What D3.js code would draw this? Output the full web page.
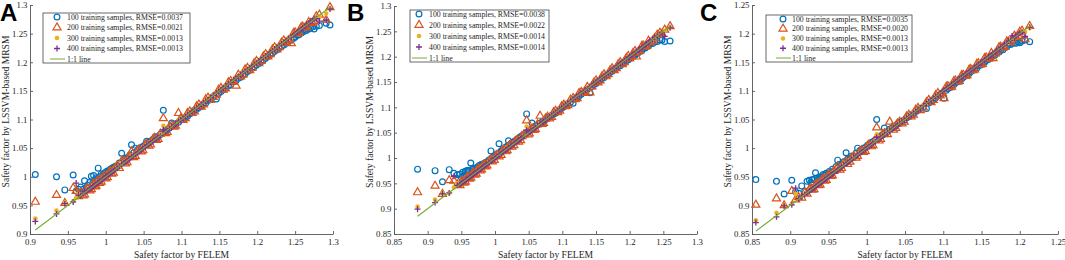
<!DOCTYPE html>
<html>
<head>
<meta charset="utf-8">
<script src="https://cdn.jsdelivr.net/npm/d3@7"></script>
<style>
  body{margin:0;background:#fff;}
  svg{display:block;}
</style>
</head>
<body>
<div id="chart"></div>
<script>
// ---- panel A : safety factor by FELEM (x) and MRSM predictions (y) ----
const xA = [0.907,0.935,0.946,0.957,0.961,0.964,0.967,0.972,0.976,0.981,
  0.984,0.987,0.990,0.994,0.998,1.002,1.006,1.010,1.015,1.021,
  1.026,1.030,1.034,1.039,1.044,1.049,1.054,1.059,1.064,1.069,
  1.076,1.081,1.087,1.092,1.096,1.102,1.108,1.114,1.120,1.126,
  1.132,1.138,1.146,1.152,1.158,1.165,1.172,1.178,1.184,1.190,
  1.196,1.202,1.208,1.214,1.220,1.226,1.232,1.238,1.245,1.250,
  1.255,1.260,1.265,1.270,1.275,1.282,1.291,1.296,
  0.970,0.974,0.979,0.983,0.986,0.989,0.992,0.996,1.000,1.004,
  1.008,1.012,1.018,1.024,1.028,1.032,1.037,1.042,1.047,1.052,
  1.057,1.062,1.067,1.072,1.079,1.084,1.090,1.099,1.105,1.111,
  1.117,1.123,1.129,1.135,1.142,1.149,1.155,1.162,1.169,1.175,
  1.181,1.187,1.193,1.199,1.205,1.211,1.217,1.223,1.229,1.235,
  1.241,1.248,1.253,1.258,1.263,1.268,1.273,1.278];
const yA100 = [1.004,1.000,0.977,1.003,0.975,0.978,0.982,0.993,0.985,1.001,
  1.002,0.998,1.015,1.005,1.006,1.010,1.013,1.016,1.019,1.041,
  1.031,1.034,1.056,1.050,1.049,1.053,1.062,1.061,1.066,1.070,
  1.116,1.082,1.094,1.092,1.095,1.100,1.106,1.112,1.118,1.123,
  1.129,1.135,1.136,1.149,1.155,1.161,1.168,1.174,1.180,1.186,
  1.192,1.198,1.204,1.210,1.216,1.222,1.228,1.233,1.239,1.244,
  1.248,1.253,1.256,1.260,1.258,1.264,1.268,1.265,
  0.978,0.981,0.990,0.989,0.994,0.996,1.000,1.003,1.008,1.010,
  1.015,1.018,1.024,1.030,1.033,1.038,1.042,1.047,1.051,1.056,
  1.061,1.065,1.070,1.074,1.081,1.085,1.090,1.099,1.104,1.110,
  1.116,1.121,1.127,1.133,1.140,1.146,1.152,1.159,1.166,1.172,
  1.178,1.184,1.190,1.195,1.201,1.207,1.213,1.219,1.225,1.230,
  1.236,1.242,1.247,1.251,1.255,1.258,1.262,1.263];
const yA200 = [0.956,0.968,0.954,0.980,0.975,0.966,0.972,0.969,0.980,0.978,
  0.988,0.984,0.994,0.991,1.002,0.999,1.010,1.007,1.019,1.027,
  1.023,1.034,1.044,1.036,1.048,1.046,1.058,1.056,1.068,1.066,
  1.102,1.078,1.090,1.089,1.111,1.099,1.111,1.111,1.123,1.122,
  1.135,1.134,1.143,1.155,1.154,1.167,1.159,1.175,1.187,1.186,
  1.198,1.198,1.210,1.210,1.222,1.222,1.234,1.234,1.233,1.252,
  1.251,1.262,1.261,1.268,1.272,1.283,1.274,1.296,
  0.967,0.977,0.976,0.986,0.983,0.992,0.989,0.999,0.997,1.007,
  1.005,1.015,1.015,1.027,1.025,1.035,1.034,1.045,1.044,1.055,
  1.054,1.065,1.064,1.075,1.076,1.087,1.087,1.102,1.102,1.114,
  1.114,1.126,1.126,1.138,1.139,1.152,1.152,1.165,1.166,1.178,
  1.178,1.190,1.190,1.202,1.202,1.214,1.214,1.226,1.226,1.238,
  1.238,1.251,1.250,1.261,1.260,1.270,1.269,1.280];
const yA300 = [0.927,0.941,0.955,0.957,0.963,0.970,0.968,0.973,0.977,0.982,
  0.985,0.988,0.991,0.995,0.999,1.003,1.007,1.011,1.016,1.023,
  1.027,1.031,1.037,1.040,1.045,1.050,1.056,1.060,1.065,1.070,
  1.089,1.082,1.088,1.093,1.099,1.103,1.109,1.115,1.121,1.127,
  1.133,1.139,1.146,1.153,1.159,1.166,1.172,1.179,1.185,1.191,
  1.197,1.203,1.209,1.215,1.221,1.227,1.233,1.239,1.243,1.251,
  1.256,1.261,1.266,1.271,1.276,1.279,1.285,1.293,
  0.971,0.975,0.980,0.984,0.987,0.990,0.993,0.997,1.001,1.005,
  1.009,1.013,1.019,1.025,1.029,1.033,1.038,1.043,1.048,1.053,
  1.058,1.063,1.068,1.073,1.080,1.085,1.091,1.100,1.106,1.112,
  1.118,1.124,1.130,1.136,1.143,1.150,1.156,1.163,1.170,1.176,
  1.182,1.188,1.194,1.200,1.206,1.212,1.218,1.224,1.230,1.236,
  1.242,1.249,1.254,1.259,1.264,1.269,1.274,1.279];
const yA400 = [0.922,0.935,0.953,0.956,0.989,0.968,0.967,0.974,0.976,0.981,
  0.984,0.987,0.990,0.994,0.998,1.002,1.006,1.010,1.015,1.022,
  1.026,1.030,1.035,1.039,1.044,1.049,1.055,1.059,1.064,1.069,
  1.082,1.081,1.087,1.092,1.097,1.102,1.108,1.114,1.120,1.126,
  1.132,1.138,1.146,1.152,1.158,1.165,1.172,1.178,1.184,1.190,
  1.196,1.202,1.208,1.214,1.220,1.226,1.232,1.238,1.244,1.250,
  1.255,1.260,1.266,1.271,1.276,1.272,1.274,1.293,
  0.971,0.974,0.979,0.983,0.986,0.989,0.992,0.996,1.001,1.004,
  1.008,1.012,1.018,1.024,1.028,1.032,1.037,1.042,1.047,1.052,
  1.057,1.062,1.067,1.072,1.079,1.084,1.090,1.099,1.105,1.111,
  1.117,1.123,1.129,1.134,1.142,1.149,1.155,1.162,1.169,1.175,
  1.181,1.187,1.193,1.199,1.205,1.211,1.217,1.223,1.229,1.235,
  1.241,1.248,1.253,1.258,1.263,1.268,1.273,1.276];
const lineA = [0.907, 1.296];
const ticksA = [0.9,0.95,1,1.05,1.1,1.15,1.2,1.25,1.3];
const legendA = ["100 training samples, RMSE=0.0037","200 training samples, RMSE=0.0021",
  "300 training samples, RMSE=0.0013","400 training samples, RMSE=0.0013","1:1 line"];

// ---- panel B ----
const xB = [0.885,0.911,0.922,0.932,0.939,0.944,0.948,0.952,0.956,0.960,
  0.964,0.968,0.972,0.976,0.980,0.984,0.988,0.994,0.999,1.003,
  1.006,1.011,1.016,1.020,1.025,1.030,1.035,1.040,1.047,1.051,
  1.055,1.060,1.067,1.072,1.078,1.084,1.090,1.096,1.102,1.108,
  1.116,1.122,1.128,1.134,1.141,1.147,1.153,1.159,1.165,1.171,
  1.177,1.183,1.189,1.195,1.200,1.205,1.210,1.215,1.220,1.225,
  1.230,1.237,1.245,1.252,1.260,
  0.950,0.954,0.958,0.962,0.966,0.970,0.974,0.978,0.982,0.986,
  0.991,0.996,1.001,1.009,1.013,1.018,1.023,1.028,1.033,1.038,
  1.043,1.049,1.053,1.058,1.063,1.070,1.075,1.081,1.087,1.093,
  1.099,1.105,1.112,1.119,1.125,1.131,1.137,1.144,1.150,1.156,
  1.162,1.168,1.174,1.180,1.186,1.192,1.198,1.203,1.208,1.213,
  1.218,1.223,1.228,1.234,1.241,1.248];
const yB100 = [0.978,0.975,0.953,0.977,0.970,0.967,0.968,0.972,0.974,0.976,
  0.990,0.978,0.980,0.984,0.987,0.989,0.992,1.014,1.004,1.008,
  1.028,1.016,1.021,1.034,1.030,1.034,1.039,1.044,1.087,1.055,
  1.069,1.063,1.069,1.073,1.079,1.084,1.089,1.095,1.101,1.107,
  1.108,1.120,1.126,1.132,1.129,1.145,1.151,1.157,1.163,1.169,
  1.175,1.181,1.187,1.192,1.197,1.202,1.206,1.211,1.216,1.221,
  1.225,1.229,1.233,1.230,1.231,
  0.962,0.966,0.975,0.975,0.978,0.980,0.982,0.986,0.988,0.991,
  0.996,1.001,1.006,1.014,1.018,1.023,1.027,1.032,1.037,1.042,
  1.046,1.052,1.056,1.060,1.065,1.071,1.076,1.081,1.087,1.092,
  1.098,1.104,1.110,1.117,1.123,1.129,1.135,1.141,1.147,1.153,
  1.159,1.165,1.171,1.177,1.182,1.188,1.194,1.199,1.203,1.208,
  1.212,1.217,1.221,1.226,1.230,1.233];
const yB200 = [0.932,0.945,0.929,0.956,0.955,0.948,0.946,0.955,0.953,0.963,
  0.961,0.971,0.969,0.979,0.977,0.987,0.985,0.997,0.996,1.006,
  1.003,1.014,1.013,1.023,1.022,1.033,1.032,1.043,1.074,1.048,
  1.058,1.057,1.083,1.069,1.081,1.081,1.093,1.093,1.105,1.104,
  1.118,1.118,1.130,1.130,1.129,1.149,1.149,1.161,1.161,1.173,
  1.173,1.185,1.185,1.197,1.196,1.207,1.200,1.212,1.222,1.221,
  1.228,1.236,1.247,1.253,1.260,
  0.953,0.951,0.961,0.959,0.969,0.967,0.977,0.975,0.985,0.983,
  0.994,0.993,1.004,1.006,1.016,1.015,1.026,1.025,1.036,1.035,
  1.046,1.046,1.056,1.055,1.066,1.067,1.078,1.078,1.090,1.090,
  1.102,1.102,1.115,1.116,1.128,1.128,1.140,1.141,1.153,1.153,
  1.165,1.165,1.177,1.177,1.189,1.189,1.201,1.200,1.211,1.210,
  1.221,1.220,1.231,1.231,1.243,1.245];
const yB300 = [0.904,0.918,0.931,0.931,0.942,0.950,0.949,0.953,0.957,0.961,
  0.965,0.969,0.973,0.977,0.981,0.985,0.989,0.995,1.000,1.004,
  1.008,1.012,1.017,1.021,1.026,1.031,1.036,1.041,1.062,1.052,
  1.056,1.061,1.069,1.073,1.079,1.085,1.091,1.097,1.103,1.109,
  1.116,1.122,1.128,1.134,1.140,1.147,1.153,1.159,1.165,1.171,
  1.177,1.183,1.189,1.195,1.200,1.205,1.209,1.215,1.220,1.224,
  1.229,1.236,1.243,1.251,1.257,
  0.951,0.955,0.959,0.963,0.967,0.971,0.975,0.979,0.983,0.987,
  0.992,0.997,1.002,1.010,1.014,1.019,1.024,1.029,1.034,1.039,
  1.044,1.050,1.054,1.059,1.064,1.071,1.076,1.082,1.088,1.094,
  1.100,1.106,1.113,1.120,1.126,1.132,1.138,1.145,1.151,1.157,
  1.163,1.169,1.175,1.181,1.187,1.193,1.199,1.204,1.209,1.214,
  1.219,1.224,1.229,1.235,1.242,1.249];
const yB400 = [0.899,0.912,0.929,0.931,0.964,0.946,0.948,0.952,0.956,0.960,
  0.964,0.968,0.972,0.976,0.980,0.984,0.988,0.994,0.999,1.003,
  1.007,1.011,1.016,1.020,1.025,1.030,1.035,1.040,1.055,1.051,
  1.055,1.060,1.068,1.072,1.078,1.084,1.090,1.096,1.102,1.108,
  1.116,1.122,1.128,1.134,1.141,1.147,1.153,1.159,1.165,1.171,
  1.177,1.183,1.189,1.195,1.200,1.205,1.210,1.215,1.220,1.225,
  1.231,1.238,1.244,1.240,1.257,
  0.950,0.954,0.958,0.962,0.966,0.970,0.974,0.978,0.982,0.986,
  0.991,0.996,1.001,1.009,1.013,1.018,1.023,1.028,1.033,1.038,
  1.043,1.049,1.053,1.058,1.063,1.070,1.075,1.081,1.087,1.093,
  1.099,1.105,1.112,1.119,1.125,1.131,1.137,1.144,1.150,1.156,
  1.162,1.168,1.174,1.180,1.186,1.192,1.198,1.203,1.208,1.213,
  1.218,1.223,1.228,1.234,1.241,1.247];
const lineB = [0.885, 1.260];
const ticksB = [0.85,0.9,0.95,1,1.05,1.1,1.15,1.2,1.25,1.3];
const legendB = ["100 training samples, RMSE=0.0038","200 training samples, RMSE=0.0022",
  "300 training samples, RMSE=0.0014","400 training samples, RMSE=0.0014","1:1 line"];

// ---- panel C ----
const xC = [0.855,0.882,0.892,0.902,0.907,0.911,0.915,0.919,0.922,0.925,
  0.929,0.933,0.937,0.941,0.945,0.949,0.953,0.957,0.962,0.967,
  0.973,0.978,0.983,0.988,0.993,0.998,1.003,1.008,1.013,1.018,
  1.023,1.030,1.035,1.040,1.046,1.052,1.058,1.064,1.070,1.078,
  1.084,1.090,1.096,1.101,1.106,1.111,1.116,1.121,1.126,1.131,
  1.136,1.141,1.146,1.151,1.156,1.161,1.165,1.170,1.175,1.180,
  1.185,1.190,1.195,1.200,1.207,1.213,
  0.927,0.931,0.935,0.939,0.943,0.947,0.951,0.955,0.960,0.965,
  0.970,0.975,0.980,0.986,0.991,0.996,1.001,1.006,1.011,1.016,
  1.021,1.027,1.033,1.038,1.043,1.049,1.055,1.061,1.067,1.074,
  1.081,1.087,1.093,1.099,1.104,1.109,1.114,1.119,1.124,1.129,
  1.134,1.139,1.144,1.149,1.154,1.159,1.163,1.168,1.173,1.178,
  1.183,1.188,1.193,1.198,1.203];
const yC100 = [0.945,0.942,0.920,0.944,0.924,0.921,0.934,0.925,0.942,0.944,
  0.945,0.957,0.946,0.949,0.953,0.955,0.957,0.960,0.979,0.970,
  0.992,0.982,0.986,1.000,0.997,1.001,1.006,1.011,1.050,1.021,
  1.035,1.033,1.037,1.042,1.047,1.053,1.058,1.064,1.069,1.069,
  1.082,1.088,1.094,1.087,1.104,1.109,1.114,1.119,1.124,1.129,
  1.134,1.139,1.144,1.148,1.153,1.158,1.162,1.167,1.171,1.176,
  1.180,1.183,1.183,1.184,1.189,1.186,
  0.940,0.945,0.948,0.950,0.954,0.956,0.959,0.963,0.968,0.972,
  0.976,0.981,0.986,0.991,0.996,1.000,1.005,1.010,1.014,1.019,
  1.024,1.029,1.035,1.039,1.044,1.049,1.055,1.060,1.066,1.072,
  1.079,1.085,1.091,1.096,1.101,1.106,1.111,1.116,1.121,1.126,
  1.131,1.136,1.140,1.145,1.150,1.155,1.159,1.163,1.168,1.172,
  1.177,1.181,1.184,1.186,1.187];
const yC200 = [0.901,0.912,0.900,0.925,0.910,0.914,0.913,0.922,0.920,0.928,
  0.927,0.936,0.935,0.944,0.943,0.952,0.951,0.960,0.968,0.965,
  0.976,0.976,0.986,0.986,0.996,0.995,1.006,1.005,1.036,1.016,
  1.026,1.046,1.032,1.043,1.043,1.055,1.055,1.067,1.066,1.080,
  1.080,1.092,1.092,1.087,1.108,1.107,1.118,1.117,1.128,1.127,
  1.138,1.137,1.148,1.147,1.158,1.158,1.157,1.168,1.177,1.177,
  1.186,1.190,1.194,1.203,1.190,1.213,
  0.930,0.928,0.938,0.936,0.946,0.944,0.954,0.952,0.963,0.962,
  0.973,0.972,0.983,0.983,0.994,0.993,1.004,1.003,1.014,1.013,
  1.024,1.024,1.036,1.035,1.046,1.046,1.058,1.058,1.070,1.071,
  1.084,1.084,1.096,1.096,1.107,1.106,1.117,1.116,1.127,1.126,
  1.137,1.136,1.147,1.146,1.157,1.156,1.166,1.165,1.176,1.175,
  1.186,1.185,1.196,1.196,1.205];
const yC300 = [0.874,0.887,0.901,0.903,0.920,0.913,0.916,0.920,0.923,0.926,
  0.930,0.934,0.938,0.942,0.946,0.950,0.954,0.958,0.964,0.968,
  0.974,0.979,0.984,0.989,0.994,0.999,1.004,1.009,1.024,1.019,
  1.024,1.031,1.036,1.041,1.047,1.053,1.059,1.065,1.071,1.078,
  1.084,1.090,1.096,1.100,1.106,1.111,1.116,1.121,1.126,1.131,
  1.136,1.141,1.146,1.151,1.156,1.161,1.165,1.170,1.175,1.179,
  1.184,1.189,1.194,1.199,1.203,1.210,
  0.928,0.932,0.936,0.940,0.944,0.948,0.952,0.956,0.961,0.966,
  0.971,0.976,0.981,0.987,0.992,0.997,1.002,1.007,1.012,1.017,
  1.022,1.028,1.034,1.039,1.044,1.050,1.056,1.062,1.068,1.075,
  1.082,1.088,1.094,1.100,1.105,1.110,1.115,1.120,1.125,1.130,
  1.135,1.140,1.145,1.150,1.155,1.160,1.164,1.169,1.174,1.179,
  1.184,1.189,1.194,1.199,1.204];
const yC400 = [0.870,0.880,0.899,0.901,0.930,0.912,0.916,0.919,0.922,0.925,
  0.929,0.933,0.937,0.941,0.945,0.949,0.953,0.957,0.962,0.967,
  0.973,0.978,0.983,0.988,0.993,0.998,1.003,1.008,1.019,1.018,
  1.023,1.030,1.035,1.040,1.046,1.052,1.058,1.064,1.070,1.078,
  1.084,1.090,1.096,1.101,1.106,1.111,1.116,1.121,1.126,1.131,
  1.136,1.141,1.146,1.151,1.156,1.161,1.165,1.170,1.176,1.181,
  1.187,1.196,1.196,1.201,1.195,1.211,
  0.927,0.931,0.935,0.939,0.943,0.947,0.951,0.955,0.960,0.965,
  0.970,0.975,0.980,0.986,0.991,0.996,1.001,1.006,1.011,1.016,
  1.021,1.027,1.033,1.038,1.043,1.049,1.055,1.061,1.067,1.074,
  1.081,1.087,1.093,1.099,1.104,1.109,1.114,1.119,1.124,1.129,
  1.134,1.139,1.144,1.149,1.154,1.159,1.163,1.168,1.173,1.178,
  1.183,1.188,1.193,1.198,1.202];
const lineC = [0.855, 1.215];
const ticksC = [0.85,0.9,0.95,1,1.05,1.1,1.15,1.2,1.25];
const legendC = ["100 training samples, RMSE=0.0035","200 training samples, RMSE=0.0020",
  "300 training samples, RMSE=0.0013","400 training samples, RMSE=0.0013","1:1 line"];

const xLabel = "Safety factor by FELEM";
const yLabel = "Safety factor by LSSVM-based MRSM";

// matlab default colour order
const colors = ["#0072BD","#D95319","#EDB120","#7E2F8E","#77AC30"];
const kinds = ["circle","triangle","dot","plus"];
const serif = "'Liberation Serif','Times New Roman',serif";

var svg = d3.select("#chart").append("svg").attr("width",1065).attr("height",260);

var panels = [
  {letter:"A", lx:0, xs:xA, ys:[yA100,yA200,yA300,yA400], line:lineA, ticks:ticksA, legend:legendA,
   left:30, right:333, top:5, bottom:234, leg:{x:43, y:13, w:147, h:50, mx:14, tx:24}},
  {letter:"B", lx:347, xs:xB, ys:[yB100,yB200,yB300,yB400], line:lineB, ticks:ticksB, legend:legendB,
   left:394, right:697, top:6, bottom:234, leg:{x:410, y:10, w:139, h:52, mx:9, tx:19}},
  {letter:"C", lx:700, xs:xC, ys:[yC100,yC200,yC300,yC400], line:lineC, ticks:ticksC, legend:legendC,
   left:752, right:1058, top:5, bottom:234, leg:{x:766, y:15, w:146, h:47, mx:17, tx:26}}
];

var triPath = d3.symbol().type(d3.symbolTriangle).size(28)();

function marker(g, kind, cx, cy, col){
  if(kind=="circle"){
    g.append("circle").attr("cx",cx).attr("cy",cy).attr("r",2.9)
      .attr("fill","none").attr("stroke",col).attr("stroke-width",1.2);
  } else if(kind=="triangle"){
    g.append("path").attr("d",triPath).attr("transform","translate("+cx+","+cy+")")
      .attr("fill","none").attr("stroke",col).attr("stroke-width",1.2);
  } else if(kind=="dot"){
    g.append("circle").attr("cx",cx).attr("cy",cy).attr("r",2.3).attr("fill",col);
  } else {
    g.append("path").attr("d","M-3,0H3M0,-3V3").attr("transform","translate("+cx+","+cy+")")
      .attr("fill","none").attr("stroke",col).attr("stroke-width",1.3);
  }
}

function drawPanel(p){
  var dom = [p.ticks[0], p.ticks[p.ticks.length-1]];
  var x = d3.scaleLinear().domain(dom).range([p.left, p.right]);
  var y = d3.scaleLinear().domain(dom).range([p.bottom, p.top]);
  var fmt = d3.format("~g");

  // axes, ticks pointing inward like matlab
  var gx = svg.append("g").attr("transform","translate(0,"+p.bottom+")")
    .call(d3.axisBottom(x).tickValues(p.ticks).tickFormat(fmt).tickSizeInner(-3).tickSizeOuter(0).tickPadding(5));
  var gy = svg.append("g").attr("transform","translate("+p.left+",0)")
    .call(d3.axisLeft(y).tickValues(p.ticks).tickFormat(fmt).tickSizeInner(-3).tickSizeOuter(0).tickPadding(2.5));
  [gx,gy].forEach(function(g){
    g.attr("font-family",serif).attr("font-size",8.8);
    g.selectAll("path,line").attr("stroke","#555").attr("stroke-width",0.9);
    g.selectAll("text").attr("fill","#262626");
  });

  // scatter series, plotted in order so later ones sit on top
  var pts = svg.append("g");
  p.ys.forEach(function(ys, s){
    var gs = pts.append("g");
    ys.forEach(function(v, i){ marker(gs, kinds[s], x(p.xs[i]), y(v), colors[s]); });
  });

  svg.append("line")
    .attr("x1",x(p.line[0])).attr("y1",y(p.line[0]))
    .attr("x2",x(p.line[1])).attr("y2",y(p.line[1]))
    .attr("stroke",colors[4]).attr("stroke-width",1.1);

  // axis titles
  svg.append("text").attr("x",(p.left+p.right)/2).attr("y",258)
    .attr("text-anchor","middle").attr("font-family",serif).attr("font-size",9.6)
    .attr("fill","#262626").text(xLabel);
  svg.append("text").attr("transform","translate("+(p.left-21)+","+((p.top+p.bottom)/2-8)+") rotate(-90)")
    .attr("text-anchor","middle").attr("font-family",serif).attr("font-size",9.6)
    .attr("fill","#262626").text(yLabel);

  // legend
  var L = p.leg;
  var lg = svg.append("g");
  lg.append("rect").attr("x",L.x).attr("y",L.y).attr("width",L.w).attr("height",L.h)
    .attr("fill","#fff").attr("stroke","#444").attr("stroke-width",0.8);
  var step = (L.h-8)/4;
  p.legend.forEach(function(t, i){
    var ry = L.y + 4 + i*step;
    if(i<4){
      marker(lg, kinds[i], L.x+L.mx, ry, colors[i]);
    } else {
      lg.append("line").attr("x1",L.x+L.mx-7).attr("x2",L.x+L.mx+8)
        .attr("y1",ry).attr("y2",ry).attr("stroke",colors[4]).attr("stroke-width",1);
    }
    lg.append("text").attr("x",L.x+L.tx).attr("y",ry).attr("dy","0.33em")
      .attr("font-family",serif).attr("font-size",7.8).attr("fill","#262626").text(t);
  });

  // panel letter
  svg.append("text").attr("x",p.lx).attr("y",21)
    .attr("font-family","'Liberation Sans',Arial,sans-serif").attr("font-weight","bold")
    .attr("font-size",24).attr("fill","#000").text(p.letter);
}

panels.forEach(drawPanel);
</script>
</body>
</html>
